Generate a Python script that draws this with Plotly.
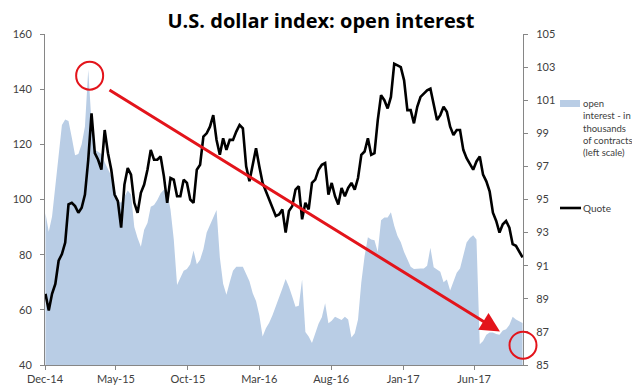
import plotly.graph_objects as go
import pandas as pd

# ---- data ----
start_date = "2014-12-02"   # first weekly observation
n_weeks = 146

open_interest = [
    95, 88.3, 93.8, 104.6, 114, 127, 129, 128.5, 122.5, 116,
    116.5, 120, 126.5, 147, 127.7, 118, 117.3, 116.5, 113.5, 111,
    108.5, 103.5, 99.5, 98.8, 101.3, 103.3, 101.8, 90, 86, 82.9,
    89, 91.5, 97.4, 98, 99.8, 102.3, 103.5, 102.5, 96.4, 85.5,
    69, 71.8, 74.2, 74.8, 76.5, 81.5, 76.5, 78.2, 82, 88,
    91, 93.5, 96.2, 79, 69.5, 65.5, 70, 74.2, 75.6, 75.6,
    75.6, 73, 70.4, 66, 63.2, 58, 50.3, 53.3, 55.3, 58,
    61.1, 64.5, 67.7, 71.2, 68.4, 64.8, 61.1, 61.5, 71, 52,
    50.3, 48, 51.5, 55, 57.3, 62.4, 55.1, 56, 57.5, 57,
    56.3, 57.5, 56.5, 50, 51.5, 56.5, 70, 79.5, 86.3, 85.5,
    85.2, 81, 92.5, 93.5, 93.5, 95.4, 90.5, 86.8, 84.5, 81,
    78, 75.6, 74.8, 75, 75, 75, 76, 82.5, 75.4, 74.6,
    73.8, 70, 71, 67, 70.5, 73.4, 75, 79.5, 84.4, 86,
    87, 85.5, 47.5, 48.7, 51, 51.8, 51.8, 51.2, 51, 52.5,
    53, 54.5, 57.5, 56.5, 55.7, 55.2,
]

quote = [
    89.3, 88.3, 89.3, 89.9, 91.3, 91.7, 92.4, 94.7, 94.8, 94.6,
    94.2, 94.5, 95.3, 97.4, 100.2, 97.8, 97.4, 96.8, 99.2, 97.8,
    96.8, 95.3, 94.9, 93.3, 95.9, 96.9, 96.5, 94.8, 94.2, 95.4,
    95.9, 96.8, 98.0, 97.4, 97.4, 97.6, 96.4, 94.8, 96.3, 96.2,
    95.2, 95.2, 96.2, 96.0, 95.0, 94.8, 96.8, 97.1, 98.8, 99.0,
    99.4, 100.1, 98.6, 97.7, 98.7, 98.0, 98.6, 98.6, 99.1, 99.5,
    99.3, 97.0, 96.1, 97.1, 98.1, 97.0, 96.0, 95.5, 95.0, 94.5,
    94.0, 94.1, 94.4, 93.0, 94.3, 94.6, 95.6, 95.8, 93.8, 94.8,
    94.4, 96.0, 96.2, 96.8, 97.1, 97.2, 95.3, 96.0, 95.2, 94.7,
    95.7, 95.2, 95.7, 96.0, 95.6, 96.3, 97.7, 97.9, 98.7, 97.7,
    97.8, 99.8, 101.3, 101.0, 100.5, 101.2, 103.2, 103.1, 103.0, 102.2,
    100.4, 100.4, 99.6, 100.6, 101.2, 101.4, 101.6, 101.7, 100.8, 99.8,
    100.1, 100.6, 100.3, 99.4, 98.9, 99.2, 99.2, 98.0, 97.5, 97.1,
    96.8, 97.3, 97.6, 96.5, 96.1, 95.5, 94.2, 93.7, 93.0, 93.5,
    93.7, 93.3, 92.3, 92.2, 91.8, 91.5,
]

tick_dates = ["2014-12-01", "2015-05-01", "2015-10-01", "2016-03-01",
              "2016-08-01", "2017-01-01", "2017-06-01"]
tick_labels = ["Dec-14", "May-15", "Oct-15", "Mar-16", "Aug-16", "Jan-17", "Jun-17"]

oi_name = "open<br>interest - in<br>thousands<br>of contracts<br>(left scale)"
quote_name = "Quote"

dates = pd.date_range(start_date, periods=n_weeks, freq="7D")

# ---- styling ----
BLUE = "#b9cde5"
RED = "#e3141b"
AXIS = "#868686"
TXT = "#404040"
FONT = "Lato"

# the page body adds an 8px offset; size the figure to fit the 640x391 window
W, H = 632, 383
PLOT_L, PLOT_W = 45, 478      # plot area in page pixels
PLOT_B, PLOT_H = 365, 331


def px(x):   # page x pixel -> paper fraction
    return (x - PLOT_L) / PLOT_W


def py(y):   # page y pixel -> paper fraction
    return (PLOT_B - y) / PLOT_H


fig = go.Figure()
fig.add_trace(go.Scatter(
    x=dates, y=open_interest, mode="lines", fill="tozeroy",
    fillcolor=BLUE, line=dict(width=0, color=BLUE),
    name=oi_name.replace("<br>", " "), showlegend=False, hoverinfo="skip",
))
fig.add_trace(go.Scatter(
    x=dates, y=quote, mode="lines", yaxis="y2",
    line=dict(width=2.6, color="black"),
    name=quote_name, showlegend=False,
))

axis_common = dict(
    showline=True, linecolor=AXIS, linewidth=1,
    ticks="outside", ticklen=4, tickcolor=AXIS,
    showgrid=False, zeroline=False, automargin=False,
    tickfont=dict(family=FONT, size=11, color=TXT),
)

fig.update_layout(
    template="none",
    width=W, height=H,
    margin=dict(l=37, r=117, t=26, b=26, autoexpand=False),
    paper_bgcolor="white", plot_bgcolor="white",
    title=dict(
        text="<b>U.S. dollar index: open interest</b>",
        font=dict(family="Open Sans", size=20, color="black", weight=800),
        x=313 / W, xref="container", xanchor="center",
        y=1 - 13 / H, yref="container", yanchor="middle",
        automargin=False,
    ),
    xaxis=dict(
        type="date", range=["2014-12-01", "2017-09-13"],
        tickvals=tick_dates, ticktext=tick_labels,
        **axis_common,
    ),
    yaxis=dict(range=[40, 160], dtick=20, ticklabelstandoff=6, **axis_common),
    yaxis2=dict(range=[85, 105], tick0=85, dtick=2, overlaying="y",
                side="right", ticklabelstandoff=6, **axis_common),
    showlegend=False,
)

# ---- legend (drawn as swatches + text to match the compact Excel layout) ----
fig.add_shape(type="rect", xref="paper", yref="paper",
              x0=px(560), x1=px(580), y0=py(107), y1=py(100),
              fillcolor=BLUE, line=dict(width=0))
fig.add_annotation(xref="paper", yref="paper", x=px(582), y=py(97),
                   xanchor="left", yanchor="top", align="left",
                   showarrow=False, text=oi_name, borderpad=0,
                   font=dict(family=FONT, size=9.5, color=TXT))
fig.add_shape(type="line", xref="paper", yref="paper",
              x0=px(560), x1=px(581), y0=py(208), y1=py(208),
              line=dict(color="black", width=2.6))
fig.add_annotation(xref="paper", yref="paper", x=px(582), y=py(208),
                   xanchor="left", yanchor="middle", align="left",
                   showarrow=False, text=quote_name, borderpad=0,
                   font=dict(family=FONT, size=10, color=TXT))

# ---- red highlight: arrow and circles ----
fig.add_annotation(
    x="2017-07-26", y=52.1, xref="x", yref="y",
    ax="2015-04-14", ay=140, axref="x", ayref="y",
    showarrow=True, arrowhead=2, arrowsize=1.3, arrowwidth=3,
    arrowcolor=RED, standoff=0, text="",
)
fig.add_shape(
    type="circle", xref="x", yref="y",
    xsizemode="pixel", ysizemode="pixel",
    xanchor="2015-03-06", yanchor=144.9,
    x0=-13.5, x1=13.5, y0=-14, y1=14,
    line=dict(color=RED, width=2),
)
fig.add_shape(
    type="circle", xref="x domain", yref="y domain",
    xsizemode="pixel", ysizemode="pixel",
    xanchor=1.0, yanchor=0.06,
    x0=-13.5, x1=13.5, y0=-13.5, y1=13.5,
    line=dict(color=RED, width=2),
)

fig.write_html("out.html")
